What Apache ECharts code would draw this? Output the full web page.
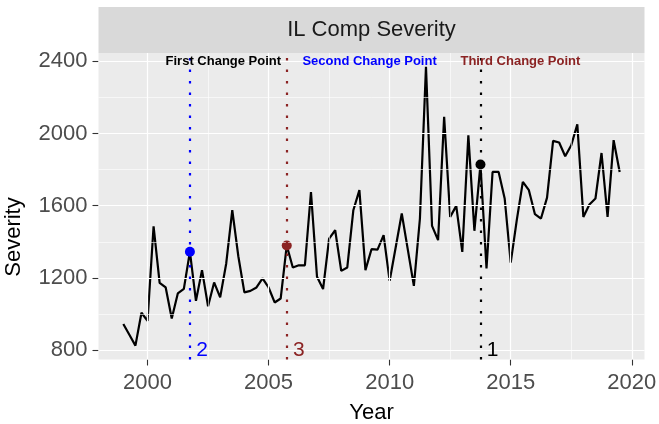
<!DOCTYPE html>
<html>
<head>
<meta charset="utf-8">
<script src="https://cdn.jsdelivr.net/npm/echarts@6/dist/echarts.min.js"></script>
<style>
html,body{margin:0;padding:0;background:#ffffff;}
#chart{width:659px;height:424px;}
</style>
</head>
<body>
<div id="chart"></div>
<script>
// ---- data ----
const startYear = 1999;           // first quarter plotted
const quarterStep = 0.25;         // quarterly observations
const severity = [
  945, 885, 825, 1007, 962, 1486, 1173, 1147, 975, 1114, 1139, 1345,
  1073, 1243, 1043, 1175, 1092, 1280, 1575, 1320, 1120, 1128, 1147, 1197,
  1147, 1064, 1086, 1380, 1258, 1270, 1270, 1676, 1206, 1138, 1418, 1464,
  1239, 1258, 1575, 1686, 1243, 1359, 1357, 1437, 1184, 1370, 1557, 1357,
  1156, 1529, 2369, 1488, 1409, 2092, 1538, 1599, 1344, 1990, 1461, 1828,
  1252, 1787, 1787, 1640, 1285, 1520, 1732, 1686, 1553, 1529, 1645, 1959,
  1950, 1874, 1935, 2051, 1538, 1607, 1640, 1892, 1538, 1963, 1787
];
const changeYears = [2013.75, 2001.75, 2005.75];   // rank 1, 2, 3
const changeValues = [1828, 1345, 1380];
const changeRanks = ['1', '2', '3'];
const changeColors = ['#000000', '#0000FF', '#8B2323'];
const headerLabels = ['First Change Point', 'Second Change Point', 'Third Change Point'];
const headerColors = ['#000000', '#0000FF', '#8B2323'];
const headerX = [2003.13, 2009.17, 2015.4];
const headerY = 2400;
const rankLabelOffset = 0.5;
const rankLabelY = 800;
const xTicks = [2000, 2005, 2010, 2015, 2020];
const xMinor = [2002.5, 2007.5, 2012.5, 2017.5];
const yTicks = [800, 1200, 1600, 2000, 2400];
const yMinor = [1000, 1400, 1800, 2200];
const xRange = [1997.975, 2020.525];
const yRange = [748, 2446];
const chartTitle = 'IL Comp Severity';
const xTitle = 'Year';
const yTitle = 'Severity';

// ---- build ----
const lineData = severity.map((v, i) => [startYear + i * quarterStep, v]);
const FONT = '"Liberation Sans", Arial, sans-serif';
const GRID = {left: 98.5, right: 14.5, top: 53, bottom: 64.5};

const gridLines = [];
xMinor.forEach(v => gridLines.push({xAxis: v, lineStyle: {width: 0.6}}));
yMinor.forEach(v => gridLines.push({yAxis: v, lineStyle: {width: 0.6}}));
xTicks.forEach(v => gridLines.push({xAxis: v, lineStyle: {width: 1.2}}));
yTicks.forEach(v => gridLines.push({yAxis: v, lineStyle: {width: 1.2}}));

const vLines = changeYears.map((x, i) => ({
  xAxis: x,
  lineStyle: {color: changeColors[i], width: 2.2, type: [2.5, 9]}
}));

const headerData = headerLabels.map((t, i) => ({
  value: [headerX[i], headerY],
  label: {formatter: t, color: headerColors[i]}
}));

const rankData = changeYears.map((x, i) => ({
  value: [x + rankLabelOffset, rankLabelY],
  label: {formatter: changeRanks[i], color: changeColors[i]}
}));

const pointData = changeYears.map((x, i) => ({
  value: [x, changeValues[i]],
  itemStyle: {color: changeColors[i], opacity: 1}
}));

const chart = echarts.init(document.getElementById('chart'), null, {renderer: 'canvas'});
chart.setOption({
  animation: false,
  backgroundColor: '#ffffff',
  grid: Object.assign({show: true, backgroundColor: '#EBEBEB', borderWidth: 0,
                       containLabel: false, outerBoundsMode: 'none'}, GRID),
  graphic: [
    {type: 'rect', shape: {x: GRID.left, y: 7, width: 659 - GRID.left - GRID.right, height: 46},
     style: {fill: '#D9D9D9'}, z: 0},
    {type: 'text', x: (GRID.left + 659 - GRID.right) / 2, y: 30,
     style: {text: chartTitle, fill: '#1A1A1A', font: '22px ' + FONT, textAlign: 'center', textVerticalAlign: 'middle'}},
    {type: 'text', x: 14, y: 237, rotation: Math.PI / 2,
     style: {text: yTitle, fill: '#000000', font: '22px ' + FONT, textAlign: 'center', textVerticalAlign: 'middle'}}
  ],
  xAxis: {
    type: 'value', min: xRange[0], max: xRange[1],
    name: xTitle, nameLocation: 'middle', nameGap: 42,
    nameTextStyle: {color: '#000000', fontSize: 22, fontFamily: FONT},
    axisLine: {show: false},
    axisTick: {show: true, length: 6, lineStyle: {color: '#333333', width: 1.1}, customValues: xTicks},
    axisLabel: {customValues: xTicks, color: '#4D4D4D', fontSize: 22, fontFamily: FONT, margin: 12,
                formatter: v => String(Math.round(v))},
    splitLine: {show: false}
  },
  yAxis: {
    type: 'value', min: yRange[0], max: yRange[1],
    axisLine: {show: false},
    axisTick: {show: true, length: 6, lineStyle: {color: '#333333', width: 1.1}, customValues: yTicks},
    axisLabel: {customValues: yTicks, color: '#4D4D4D', fontSize: 22, fontFamily: FONT, margin: 11,
                formatter: v => String(Math.round(v))},
    splitLine: {show: false}
  },
  series: [
    {
      type: 'line', data: [lineData[0]], showSymbol: false, silent: true, z: 1,
      lineStyle: {opacity: 0},
      markLine: {silent: true, symbol: ['none', 'none'], label: {show: false},
                 lineStyle: {color: '#FFFFFF', type: 'solid'}, data: gridLines, animation: false}
    },
    {
      type: 'line', data: [lineData[0]], showSymbol: false, silent: true, z: 2,
      lineStyle: {opacity: 0},
      markLine: {silent: true, symbol: ['none', 'none'], label: {show: false}, data: vLines, animation: false}
    },
    {
      type: 'line', data: lineData, showSymbol: false, z: 3,
      lineStyle: {color: '#000000', width: 2.2}
    },
    {
      type: 'scatter', data: pointData, symbolSize: 10, z: 4, itemStyle: {opacity: 1}
    },
    {
      type: 'scatter', data: headerData, symbolSize: 0, z: 5, itemStyle: {opacity: 1},
      label: {show: true, position: 'inside', fontSize: 13, fontWeight: 'bold', fontFamily: FONT, opacity: 1}
    },
    {
      type: 'scatter', data: rankData, symbolSize: 0, z: 5, itemStyle: {opacity: 1},
      label: {show: true, position: 'inside', fontSize: 21, fontFamily: FONT, opacity: 1}
    }
  ]
});
</script>
</body>
</html>
